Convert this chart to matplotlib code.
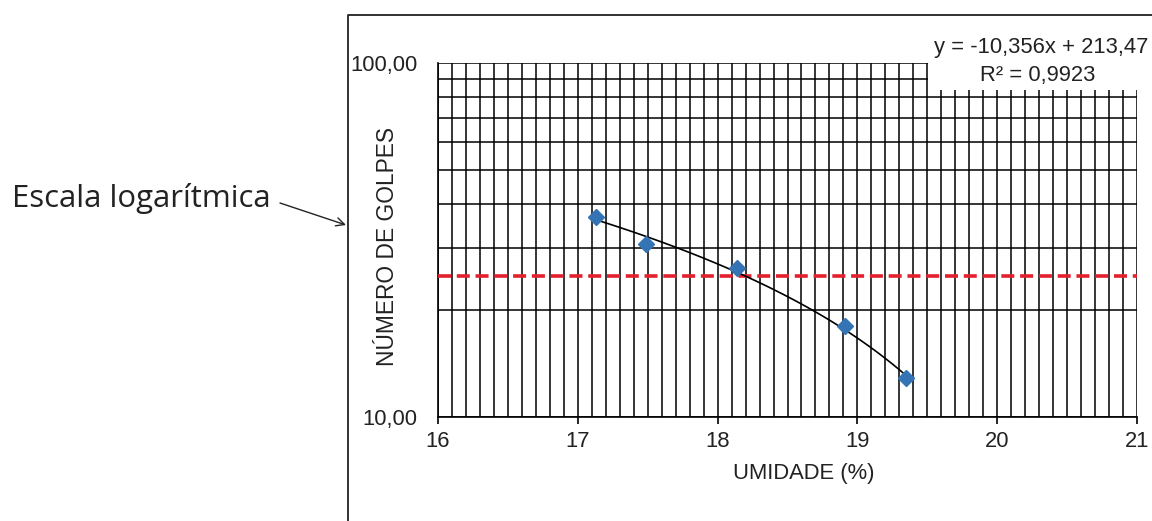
import numpy as np
import matplotlib
matplotlib.use("Agg")
import matplotlib.pyplot as plt
from matplotlib.lines import Line2D
from matplotlib.patches import Rectangle, FancyArrowPatch
from matplotlib.ticker import FixedLocator, FuncFormatter, NullFormatter

# Ensaio de Casagrande: umidade x número de golpes
umidade = [17.13, 17.49, 18.14, 18.91, 19.35]
golpes = [36.8, 30.9, 26.3, 18.1, 12.9]

# Linha de tendência linear (Excel)
slope = -10.356
intercept = 213.47
r2 = 0.9923
golpes_ref = 25

x_ticks = [16, 17, 18, 19, 20, 21]
y_ticks = [10, 100]

W, H = 1152, 521
FS = 15.8
fig = plt.figure(figsize=(W / 100, H / 100), dpi=100)
plt.rcParams['font.family'] = ['Liberation Sans', 'DejaVu Sans']


def px(x0, y0, x1, y1):
    return [x0 / W, 1 - y1 / H, (x1 - x0) / W, (y1 - y0) / H]


ax = fig.add_axes(px(438, 63, 1137, 417))
ax.set_yscale('log')
ax.set_xlim(16, 21)
ax.set_ylim(10, 100)

# Grade milimetrada
ax.xaxis.set_major_locator(FixedLocator(x_ticks))
ax.xaxis.set_minor_locator(FixedLocator(np.arange(16, 21.001, 0.1)))
ax.yaxis.set_major_locator(FixedLocator(y_ticks))
ax.yaxis.set_minor_locator(FixedLocator(np.arange(20, 100, 10)))
ax.yaxis.set_minor_formatter(NullFormatter())
ax.yaxis.set_major_formatter(FuncFormatter(lambda v, p: f"{v:.2f}".replace('.', ',')))
ax.xaxis.set_major_formatter(FuncFormatter(lambda v, p: f"{v:.0f}"))
ax.grid(True, which='both', color='black', linewidth=1.1)
ax.set_axisbelow(True)

for s in ['top', 'right']:
    ax.spines[s].set_visible(False)
for s in ['left', 'bottom']:
    ax.spines[s].set_linewidth(1.2)

ax.tick_params(axis='x', which='major', direction='out', length=5, width=1.2,
               labelsize=FS, pad=5, colors='black', labelcolor='#222222')
ax.tick_params(axis='x', which='minor', length=0)
ax.tick_params(axis='y', which='both', length=0, labelsize=FS, pad=15,
               labelcolor='#222222')

# Limite de liquidez (25 golpes)
ax.axhline(golpes_ref, color='#e3202c', linewidth=2.6, dashes=(3.6, 1.6), zorder=3)

# Linha de tendência
xt = np.linspace(umidade[0], umidade[-1], 100)
ax.plot(xt, slope * xt + intercept, color='black', linewidth=1.2, zorder=4)

# Pontos do ensaio
ax.plot(umidade, golpes, linestyle='none', marker='D', markersize=8,
        color='#3474b4', markeredgecolor='#3474b4', zorder=5)

ax.set_xlabel('UMIDADE (%)', fontsize=FS, color='#222222')
ax.xaxis.set_label_coords((804 - 438) / 699, (417 - 473) / 354)
ax.xaxis.label.set_va('center')
ax.set_ylabel('NÚMERO DE GOLPES', fontsize=16.4, color='#222222')
ax.yaxis.set_label_coords((387 - 438) / 699, (417 - 247) / 354)
ax.yaxis.label.set_va('center')

# Caixa da equação
fig.patches.append(Rectangle((928 / W, 1 - 90 / H), (W - 928) / W, (90 - 32) / H,
                             transform=fig.transFigure, facecolor='white',
                             edgecolor='none', zorder=10))
fig.text(1041 / W, 1 - 48 / H,
         f"y = {slope:.3f}x + {intercept:.2f}".replace('.', ','),
         ha='center', va='center', fontsize=FS, color='#222222', zorder=11)
fig.text(1038 / W, 1 - 75 / H, f"R² = {r2:.4f}".replace('.', ','),
         ha='center', va='center', fontsize=FS, color='#222222', zorder=11)

# Moldura da área do gráfico
fig.lines.append(Line2D([348 / W, 348 / W, 1.0], [0.0, 1 - 15 / H, 1 - 15 / H],
                        transform=fig.transFigure, color='#222222', linewidth=1.3))

# Anotação da escala
fig.text(12 / W, 1 - 199 / H, 'Escala logarítmica', ha='left', va='center',
         fontsize=22.4, family=['Open Sans', 'DejaVu Sans'], color='#222222')
fig.add_artist(FancyArrowPatch(
    (280 / W, 1 - 203 / H), (346 / W, 1 - 225 / H), transform=fig.transFigure,
    arrowstyle='->,head_length=6,head_width=3', color='#222222', linewidth=1.0,
    shrinkA=0, shrinkB=0))

fig.savefig('out.png', dpi=100)
